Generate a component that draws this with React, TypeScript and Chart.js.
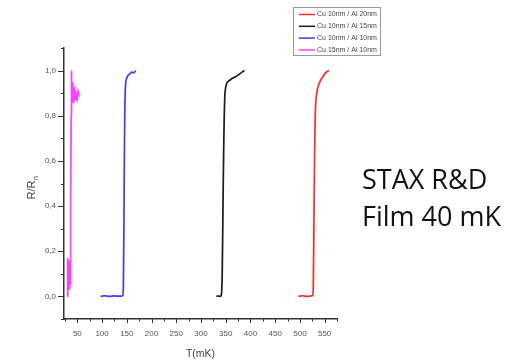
import React, { useEffect, useRef } from "react";
import { Chart, registerables } from "chart.js";

Chart.register(...registerables);

// ---- data ----
const seriesLabels = [
  "Cu 10nm / Al 20nm",
  "Cu 10nm / Al 15nm",
  "Cu 10nm / Al 10nm",
  "Cu 15nm / Al 10nm",
];
const seriesColors = ["#ff2b2b", "#1c1c1c", "#3c3cff", "#ff40ff"];

const redT = [497, 505, 515, 523, 526, 527, 528, 529, 530, 531, 532.5, 534.5, 537, 540, 544, 548, 552, 556, 559];
const redR = [0, 0.003, 0, 0.002, 0.005, 0.04, 0.22, 0.48, 0.68, 0.8, 0.87, 0.905, 0.93, 0.948, 0.965, 0.978, 0.99, 0.997, 1.0];

const blackT = [331, 335, 339, 341, 342, 343, 344, 345, 346, 347, 348, 349.5, 351.5, 354, 358, 363, 369, 375, 381, 388];
const blackR = [0, 0.002, 0, 0.005, 0.03, 0.12, 0.3, 0.5, 0.67, 0.8, 0.88, 0.92, 0.94, 0.95, 0.957, 0.965, 0.972, 0.98, 0.99, 1.0];

const blueT = [97, 105, 115, 125, 135, 142, 143, 144, 145, 146, 147, 148.5, 150.5, 153, 156, 160, 164, 168];
const blueR = [0, 0.003, 0, 0.002, 0.001, 0.003, 0.04, 0.25, 0.6, 0.83, 0.92, 0.955, 0.97, 0.98, 0.985, 0.993, 0.99, 1.0];

const magentaT = [30, 30.3, 31, 31.5, 32, 32.5, 33, 33.5, 34, 34.5, 35, 35.5, 36, 36.5, 37, 37.5, 38, 38.5, 39.5, 40.5, 41.5, 42.5, 43.5, 44.5, 45.5, 46.5, 47.5, 48.5, 50, 51.5, 53];
const magentaR = [0.0, 0.17, 0.02, 0.16, 0.04, 0.15, 0.03, 0.14, 0.05, 0.16, 0.03, 0.15, 0.05, 0.12, 0.4, 0.8, 1.0, 0.93, 0.88, 0.95, 0.86, 0.92, 0.87, 0.93, 0.88, 0.91, 0.87, 0.9, 0.88, 0.91, 0.9];

const xTickValues = [25, 50, 75, 100, 125, 150, 175, 200, 225, 250, 275, 300, 325, 350, 375, 400, 425, 450, 475, 500, 525, 550, 575];
const xLabelled = [50, 100, 150, 200, 250, 300, 350, 400, 450, 500, 550];
const yTickValues = [-0.1, 0, 0.1, 0.2, 0.3, 0.4, 0.5, 0.6, 0.7, 0.8, 0.9, 1.0, 1.1];
const yLabelled = [0, 0.2, 0.4, 0.6, 0.8, 1.0];

const xTitle = "T(mK)";
const yTitleMain = "R/R";
const yTitleSub = "n";
const noteLines = ["STAX R&D", "Film 40 mK"];

const seriesT = [redT, blackT, blueT, magentaT];
const seriesR = [redR, blackR, blueR, magentaR];

const isIn = (arr: number[], v: number) => arr.some((a) => Math.abs(a - v) < 1e-6);

const decorPlugin = {
  id: "decor",
  afterDraw(chart: any) {
    const ctx: CanvasRenderingContext2D = chart.ctx;
    const xs = chart.scales.x;
    const ys = chart.scales.y;
    const area = chart.chartArea;
    ctx.save();
    // ticks
    ctx.strokeStyle = "#333";
    ctx.lineWidth = 1;
    ctx.beginPath();
    xs.ticks.forEach((t: any) => {
      const px = Math.round(xs.getPixelForValue(t.value)) + 0.5;
      const len = isIn(xLabelled, t.value) ? 4 : 2.5;
      ctx.moveTo(px, area.bottom);
      ctx.lineTo(px, area.bottom + len);
    });
    ys.ticks.forEach((t: any) => {
      const py = Math.round(ys.getPixelForValue(t.value)) + 0.5;
      const len = isIn(yLabelled, t.value) ? 6 : 3;
      ctx.moveTo(area.left, py);
      ctx.lineTo(area.left - len, py);
    });
    ctx.stroke();

    // x title
    ctx.fillStyle = "#444";
    ctx.font = "10.5px 'Liberation Sans', Arial, sans-serif";
    ctx.textAlign = "center";
    ctx.textBaseline = "alphabetic";
    ctx.fillText(xTitle, (area.left + area.right) / 2, 357);

    // y title rotated
    ctx.save();
    ctx.translate(35, 188);
    ctx.rotate(-Math.PI / 2);
    ctx.font = "11px 'Liberation Sans', Arial, sans-serif";
    const wMain = ctx.measureText(yTitleMain).width;
    ctx.font = "7px 'Liberation Sans', Arial, sans-serif";
    const wSub = ctx.measureText(yTitleSub).width;
    const start = -(wMain + wSub) / 2;
    ctx.textAlign = "left";
    ctx.font = "11px 'Liberation Sans', Arial, sans-serif";
    ctx.fillText(yTitleMain, start, 0);
    ctx.font = "7px 'Liberation Sans', Arial, sans-serif";
    ctx.fillText(yTitleSub, start + wMain + 0.5, 2.5);
    ctx.restore();

    // legend box
    ctx.strokeStyle = "#9a9a9a";
    ctx.lineWidth = 1;
    ctx.strokeRect(293.5, 7.5, 87, 48);
    ctx.font = "7px 'Liberation Sans', Arial, sans-serif";
    ctx.textAlign = "left";
    ctx.textBaseline = "middle";
    seriesLabels.forEach((lab, i) => {
      const y = 14.5 + i * 11.8;
      ctx.strokeStyle = seriesColors[i];
      ctx.lineWidth = 1.5;
      ctx.beginPath();
      ctx.moveTo(299, y);
      ctx.lineTo(315, y);
      ctx.stroke();
      ctx.fillStyle = "#444";
      ctx.fillText(lab, 317, y);
    });

    // note text
    ctx.fillStyle = "#111";
    ctx.font = "27px 'Open Sans', 'Noto Sans', sans-serif";
    ctx.textAlign = "left";
    ctx.textBaseline = "alphabetic";
    ctx.fillText(noteLines[0], 362, 189);
    ctx.fillText(noteLines[1], 362, 226);
    ctx.restore();
  },
};

export default function App() {
  const canvasRef = useRef<HTMLCanvasElement | null>(null);

  useEffect(() => {
    const canvas = canvasRef.current;
    if (!canvas) return;
    const datasets = seriesLabels.map((label, i) => ({
      label,
      data: seriesT[i].map((t, j) => ({ x: t, y: seriesR[i][j] })),
      borderColor: seriesColors[i],
      backgroundColor: seriesColors[i],
      borderWidth: 1.7,
      pointRadius: 0,
      showLine: true,
      fill: false,
      cubicInterpolationMode: i === 3 ? "default" : "monotone",
      tension: i === 3 ? 0 : 0.4,
    }));
    const tickFont = { family: "'Liberation Sans', Arial, sans-serif", size: 8 };
    const chart = new Chart(canvas, {
      type: "scatter",
      data: { datasets },
      options: {
        animation: false,
        responsive: false,
        maintainAspectRatio: false,
        devicePixelRatio: 1,
        layout: { padding: { left: 0, right: 177, top: 48, bottom: 0 } },
        plugins: { legend: { display: false }, tooltip: { enabled: false }, title: { display: false } },
        scales: {
          x: {
            type: "linear",
            min: 23,
            max: 575,
            afterBuildTicks: (scale: any) => {
              scale.ticks = xTickValues.map((v) => ({ value: v }));
            },
            afterFit: (scale: any) => {
              scale.height = 42;
            },
            grid: { display: false, drawTicks: false },
            border: { display: true, color: "#333", width: 1.5 },
            ticks: {
              autoSkip: false,
              maxRotation: 0,
              padding: 10,
              color: "#555",
              font: tickFont,
              callback: (v: any) => (isIn(xLabelled, Number(v)) ? String(v) : ""),
            },
          },
          y: {
            type: "linear",
            min: -0.1,
            max: 1.1,
            afterBuildTicks: (scale: any) => {
              scale.ticks = yTickValues.map((v) => ({ value: v }));
            },
            afterFit: (scale: any) => {
              scale.width = 64;
            },
            grid: { display: false, drawTicks: false },
            border: { display: true, color: "#333", width: 1.5 },
            ticks: {
              autoSkip: false,
              padding: 8,
              color: "#555",
              font: tickFont,
              callback: (v: any) =>
                isIn(yLabelled, Number(v)) ? Number(v).toFixed(1).replace(".", ",") : "",
            },
          },
        },
      },
      plugins: [decorPlugin],
    } as any);
    return () => chart.destroy();
  }, []);

  return (
    <div style={{ position: "fixed", left: 0, top: 0, width: 514, height: 361, background: "#fff" }}>
      <canvas ref={canvasRef} width={514} height={361} style={{ width: 514, height: 361, display: "block" }} />
    </div>
  );
}
